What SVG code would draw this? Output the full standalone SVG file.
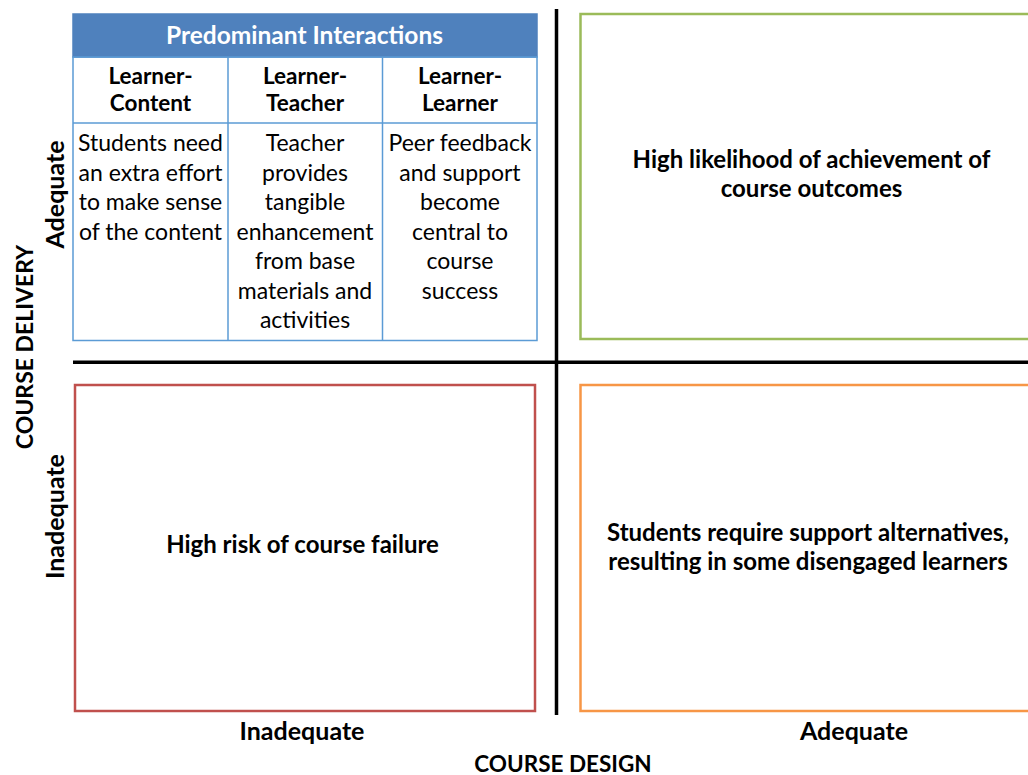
<svg xmlns="http://www.w3.org/2000/svg" width="1028" height="775" viewBox="0 0 1028 775">
<style>
  text { font-family: Lato, "Open Sans", "Liberation Sans", sans-serif; fill: #000; }
  .b { font-weight: bold; }
  .c { text-anchor: middle; }
  .body { font-size: 23px; }
  .lbl { font-size: 24px; font-weight: bold; }
  .ax { font-size: 25px; font-weight: bold; }
  .cap { font-size: 22.5px; font-weight: bold; }
  .cell { fill: none; stroke: #5B9BD5; stroke-width: 1.5; }
  .axis { stroke: #000; stroke-width: 3.5; fill: none; }
</style>
<rect width="1028" height="775" fill="#fff"/>

<g id="axes">
  <line class="axis" x1="556.5" y1="9" x2="556.5" y2="715"/>
  <line class="axis" x1="73" y1="362.3" x2="1028" y2="362.3"/>
</g>

<g id="table">
  <rect x="73" y="14" width="464" height="43" fill="#4F81BD" stroke="#4F81BD" stroke-width="1.5"/>
  <text class="b c" x="304.5" y="43.5" font-size="24.5" style="fill:#fff">Predominant Interactions</text>
  <rect class="cell" x="73" y="57" width="464" height="283.5"/>
  <line class="cell" x1="73" y1="123" x2="537" y2="123"/>
  <line class="cell" x1="228" y1="57" x2="228" y2="340.5"/>
  <line class="cell" x1="382.5" y1="57" x2="382.5" y2="340.5"/>
  <g class="b c" font-size="22.5">
    <text x="150.5" y="83.5">Learner-</text>
    <text x="150.5" y="110.5">Content</text>
    <text x="305" y="83.5">Learner-</text>
    <text x="305" y="110.5">Teacher</text>
    <text x="460" y="83.5">Learner-</text>
    <text x="460" y="110.5">Learner</text>
  </g>
  <g class="c body">
    <text x="150.5" y="151">Students need</text>
    <text x="150.5" y="180.5">an extra effort</text>
    <text x="150.5" y="210">to make sense</text>
    <text x="150.5" y="239.5">of the content</text>
    <text x="305" y="151">Teacher</text>
    <text x="305" y="180.5">provides</text>
    <text x="305" y="210">tangible</text>
    <text x="305" y="239.5">enhancement</text>
    <text x="305" y="269">from base</text>
    <text x="305" y="298.5">materials and</text>
    <text x="305" y="328">activities</text>
    <text x="460" y="151">Peer feedback</text>
    <text x="460" y="180.5">and support</text>
    <text x="460" y="210">become</text>
    <text x="460" y="239.5">central to</text>
    <text x="460" y="269">course</text>
    <text x="460" y="298.5">success</text>
  </g>
</g>

<g id="q-high">
  <rect x="580.5" y="14" width="460" height="325" fill="none" stroke="#9BBB59" stroke-width="2.5"/>
  <text class="lbl c" x="811.5" y="168">High likelihood of achievement of</text>
  <text class="lbl c" x="811.5" y="197">course outcomes</text>
</g>

<g id="q-risk">
  <rect x="75" y="385" width="460" height="326" fill="none" stroke="#C0504D" stroke-width="2.5"/>
  <text class="lbl c" x="302.5" y="553">High risk of course failure</text>
</g>

<g id="q-support">
  <rect x="580.5" y="385" width="460" height="326" fill="none" stroke="#F79646" stroke-width="2.5"/>
  <text class="lbl c" x="808" y="540.5">Students require support alternatives,</text>
  <text class="lbl c" x="808" y="569.5">resulting in some disengaged learners</text>
</g>

<g id="axis-labels">
  <text class="ax c" x="302" y="740">Inadequate</text>
  <text class="ax c" x="854" y="740">Adequate</text>
  <text class="cap c" x="563" y="771.5">COURSE DESIGN</text>
  <text class="cap c" transform="translate(33,347) rotate(-90)" style="font-size:23px">COURSE DELIVERY</text>
  <text class="ax c" transform="translate(63.5,194.5) rotate(-90)">Adequate</text>
  <text class="ax c" transform="translate(63.5,516.5) rotate(-90)">Inadequate</text>
</g>
</svg>
